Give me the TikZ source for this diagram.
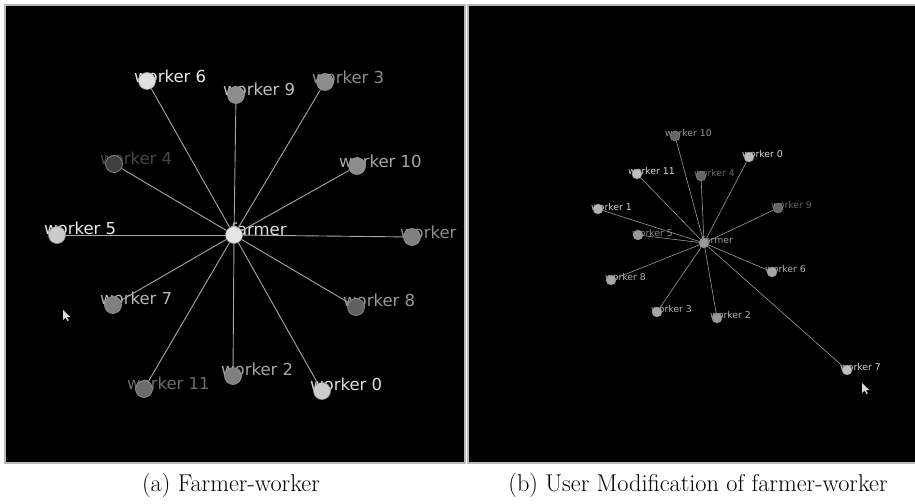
\documentclass[tikz,border=0pt]{standalone}
\usepackage{fontspec}
\newfontfamily\guifont{DejaVu Sans}
\usetikzlibrary{positioning}

\begin{document}
\begin{tikzpicture}[x=1pt, y=-1pt,
    panel/.style = {fill=black, draw=white!72!black, line width=2pt},
    big/.style = {circle, draw=white!60!black, line width=0.6pt, minimum size=17pt, inner sep=0pt},
    small/.style = {circle, draw=white!55!black, line width=0.4pt, minimum size=10pt, inner sep=0pt},
    bigtext/.style = {anchor=west, inner sep=0pt, font=\guifont\fontsize{16.5}{18}\selectfont},
    smalltext/.style = {anchor=west, inner sep=0pt, font=\guifont\fontsize{9.3}{11}\selectfont},
    link/.style = {draw=white!65!black, line width=0.9pt},
    thinlink/.style = {draw=white!60!black, line width=0.6pt},
    caption/.style = {inner sep=0pt, font=\fontsize{24.3}{29}\selectfont}]
    \useasboundingbox[fill=white] (0,0) rectangle (915,503);

    % (a) farmer-worker
    \draw[panel] (5,5) rectangle (464.5,463);
    \begin{scope}
        \clip (7,7) rectangle (461,461);
        \node[bigtext, text=white!88!black] at (231, 229) (tFa) {farmer};
        \node[bigtext, text=white!92!black] at (134, 76) (tW6a) {worker 6};
        \node[bigtext, text=white!75!black] at (223, 89) (tW9a) {worker 9};
        \node[bigtext, text=white!55!black] at (312, 77) (tW3a) {worker 3};
        \node[bigtext, text=white!28!black] at (100, 158) (tW4a) {worker 4};
        \node[bigtext, text=white!65!black] at (339, 161) (tW10a) {worker 10};
        \node[bigtext, text=white!92!black] at (44, 228) (tW5a) {worker 5};
        \node[bigtext, text=white!55!black] at (400, 232) (tW1a) {worker 1};
        \node[bigtext, text=white!72!black] at (100, 298) (tW7a) {worker 7};
        \node[bigtext, text=white!60!black] at (343, 300) (tW8a) {worker 8};
        \node[bigtext, text=white!42!black] at (127, 383) (tW11a) {worker 11};
        \node[bigtext, text=white!65!black] at (221, 369) (tW2a) {worker 2};
        \node[bigtext, text=white!88!black] at (310, 384) (tW0a) {worker 0};

        \node[big, fill=white!90!black] at (234, 235) (Fa) {};
        \node[big, fill=white!88!black] at (147, 81) (W6a) {};
        \node[big, fill=white!55!black] at (236, 95) (W9a) {};
        \node[big, fill=white!55!black] at (325, 82) (W3a) {};
        \node[big, fill=white!25!black] at (114, 164) (W4a) {};
        \node[big, fill=white!55!black] at (357, 166) (W10a) {};
        \node[big, fill=white!80!black] at (57, 235) (W5a) {};
        \node[big, fill=white!50!black] at (412, 237) (W1a) {};
        \node[big, fill=white!50!black] at (113, 305) (W7a) {};
        \node[big, fill=white!38!black] at (356, 307) (W8a) {};
        \node[big, fill=white!42!black] at (144, 389) (W11a) {};
        \node[big, fill=white!50!black] at (233, 376) (W2a) {};
        \node[big, fill=white!80!black] at (322, 391) (W0a) {};

        \draw[link] (Fa) -- (W6a);
        \draw[link] (Fa) -- (W9a);
        \draw[link] (Fa) -- (W3a);
        \draw[link] (Fa) -- (W4a);
        \draw[link] (Fa) -- (W10a);
        \draw[link] (Fa) -- (W5a);
        \draw[link] (Fa) -- (W1a);
        \draw[link] (Fa) -- (W7a);
        \draw[link] (Fa) -- (W8a);
        \draw[link] (Fa) -- (W11a);
        \draw[link] (Fa) -- (W2a);
        \draw[link] (Fa) -- (W0a);

        % mouse pointer
        \fill[white!85!black] (63,310) -- ++(0,10) -- ++(2.5,-2.5) -- ++(2,3.5) -- ++(1.3,-0.7) -- ++(-2,-3.3) -- ++(3.5,0) -- cycle;
    \end{scope}

    % (b) user modification
    \draw[panel] (467.5,5) rectangle (916,463);
    \node[smalltext, text=white!60!black] at (701.5, 240) (tFb) {farmer};
    \node[smalltext, text=white!60!black] at (665, 133) (tW10b) {worker 10};
    \node[smalltext, text=white!85!black] at (742, 154) (tW0b) {worker 0};
    \node[smalltext, text=white!85!black] at (628, 171) (tW11b) {worker 11};
    \node[smalltext, text=white!40!black] at (694, 173) (tW4b) {worker 4};
    \node[smalltext, text=white!80!black] at (591, 207) (tW1b) {worker 1};
    \node[smalltext, text=white!40!black] at (771, 205) (tW9b) {worker 9};
    \node[smalltext, text=white!55!black] at (632, 233) (tW5b) {worker 5};
    \node[smalltext, text=white!70!black] at (605, 277) (tW8b) {worker 8};
    \node[smalltext, text=white!70!black] at (765, 269) (tW6b) {worker 6};
    \node[smalltext, text=white!70!black] at (651, 309) (tW3b) {worker 3};
    \node[smalltext, text=white!70!black] at (710, 315) (tW2b) {worker 2};
    \node[smalltext, text=white!82!black] at (840, 367) (tW7b) {worker 7};

    \node[small, fill=white!60!black] at (704, 243) (Fb) {};
    \node[small, fill=white!40!black] at (675, 136) (W10b) {};
    \node[small, fill=white!75!black] at (749, 157) (W0b) {};
    \node[small, fill=white!75!black] at (637, 174) (W11b) {};
    \node[small, fill=white!40!black] at (701, 176) (W4b) {};
    \node[small, fill=white!70!black] at (598, 209) (W1b) {};
    \node[small, fill=white!40!black] at (778, 208) (W9b) {};
    \node[small, fill=white!60!black] at (638, 235) (W5b) {};
    \node[small, fill=white!65!black] at (611, 280) (W8b) {};
    \node[small, fill=white!65!black] at (772, 272) (W6b) {};
    \node[small, fill=white!65!black] at (657, 312) (W3b) {};
    \node[small, fill=white!60!black] at (717, 318) (W2b) {};
    \node[small, fill=white!75!black] at (847, 370) (W7b) {};

    \draw[thinlink] (Fb) -- (W10b);
    \draw[thinlink] (Fb) -- (W0b);
    \draw[thinlink] (Fb) -- (W11b);
    \draw[thinlink] (Fb) -- (W4b);
    \draw[thinlink] (Fb) -- (W1b);
    \draw[thinlink] (Fb) -- (W9b);
    \draw[thinlink] (Fb) -- (W5b);
    \draw[thinlink] (Fb) -- (W8b);
    \draw[thinlink] (Fb) -- (W6b);
    \draw[thinlink] (Fb) -- (W3b);
    \draw[thinlink] (Fb) -- (W2b);
    \draw[thinlink] (Fb) -- (W7b);

    % mouse pointer
    \fill[white!85!black] (862,383) -- ++(0,10) -- ++(2.5,-2.5) -- ++(2,3.5) -- ++(1.3,-0.7) -- ++(-2,-3.3) -- ++(3.5,0) -- cycle;

    % captions
    \node[caption] at (231, 485) (capA) {(a) Farmer-worker};
    \node[caption] at (698, 485) (capB) {(b) User Modification of farmer-worker};
\end{tikzpicture}
\end{document}
